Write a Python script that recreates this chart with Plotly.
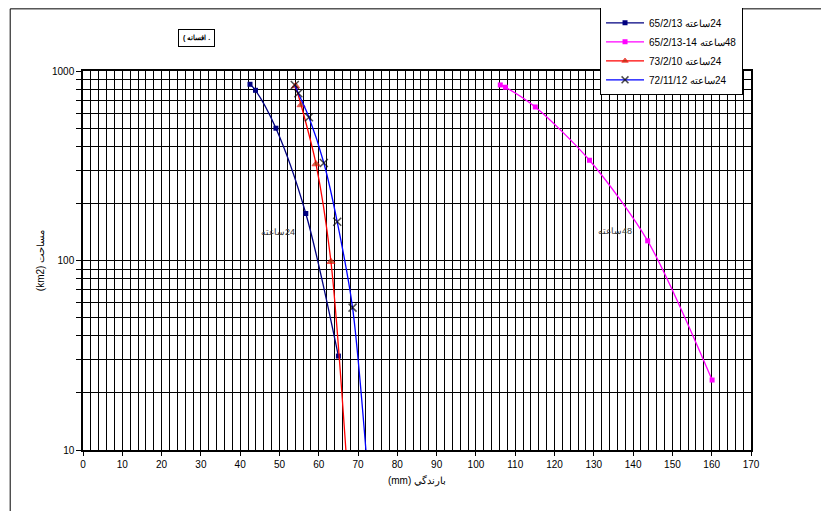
import plotly.graph_objects as go

RLE, LRE, PDF = "\u202b", "\u202a", "\u202c"

# Series data (rainfall mm vs area km2)
s1_label, s1_date = "24ساعته", "65/2/13"
s1_x = [42.5, 43.9, 49.1, 56.7, 65.0]
s1_y = [851, 791, 499, 177, 31.3]

s2_label, s2_date = "48ساعته", "65/2/13-14"
s2_x = [106.2, 107.5, 115.1, 128.9, 143.7, 160.1]
s2_y = [844, 821, 646, 338, 127, 23.4]

s3_label, s3_date = "24ساعته", "73/2/10"
s3_x = [54.1, 55.5, 59.3, 63.1, 66.9]
s3_y = [834, 662, 323, 98.5, 10]

s4_label, s4_date = "24ساعته", "72/11/12"
s4_x = [53.9, 54.8, 57.5, 61.3, 64.7, 68.6, 72.0]
s4_y = [844, 763, 570, 327, 160, 56.4, 10]

x_ticks = list(range(0, 171, 10))
y_ticks = [10, 100, 1000]
y_minor = [20, 30, 40, 50, 60, 70, 80, 90, 200, 300, 400, 500, 600, 700, 800, 900]

FONT = "Liberation Sans, Arial, sans-serif"


def legend_name(label, date):
    return RLE + label + " " + LRE + date + PDF + PDF


def msizes(n, size, hide_last=False):
    s = [size] * n
    if hide_last:
        s[-1] = 0
    return s


fig = go.Figure()
fig.add_trace(go.Scatter(
    x=s1_x, y=s1_y, name=legend_name(s1_label, s1_date), mode="lines+markers",
    line=dict(color="#000080", width=1.3, shape="spline", smoothing=0.9),
    marker=dict(symbol="square", size=5, color="#000080")))
fig.add_trace(go.Scatter(
    x=s2_x, y=s2_y, name=legend_name(s2_label, s2_date), mode="lines+markers",
    line=dict(color="#FF00FF", width=1.3, shape="spline", smoothing=0.8),
    marker=dict(symbol="square", size=5, color="#FF00FF")))
fig.add_trace(go.Scatter(
    x=s3_x, y=s3_y, name=legend_name(s3_label, s3_date), mode="lines+markers",
    line=dict(color="#FF0000", width=1.3, shape="spline", smoothing=0.8),
    marker=dict(symbol="triangle-up", size=msizes(len(s3_x), 7, True), color="#993300")))
fig.add_trace(go.Scatter(
    x=s4_x, y=s4_y, name=legend_name(s4_label, s4_date), mode="lines+markers",
    line=dict(color="#0000FF", width=1.3, shape="spline", smoothing=0.8),
    marker=dict(symbol="x-thin", size=msizes(len(s4_x), 8, True),
                line=dict(color="black", width=1.5), color="black")))

# page has an 8px body margin, so the figure is sized/offset to compensate
fig.update_layout(
    width=821, height=503,
    margin=dict(l=75, r=78, t=63, b=61, autoexpand=False),
    paper_bgcolor="white", plot_bgcolor="white",
    font=dict(family=FONT, size=10, color="black"),
    showlegend=True,
    legend=dict(x=0.774, y=1.168, xanchor="left", yanchor="top",
                bgcolor="white", bordercolor="black", borderwidth=1,
                font=dict(size=10), tracegroupgap=0, itemwidth=38),
    xaxis=dict(range=[0, 170], tickvals=x_ticks, showgrid=True, gridcolor="black",
               gridwidth=1, zeroline=False, showline=True, linecolor="black",
               linewidth=1.5, mirror=True, ticks="outside", ticklen=4,
               tickcolor="black",
               minor=dict(dtick=2, tick0=0, showgrid=True, gridcolor="black", gridwidth=1),
               title=dict(text="(mm) بارندگي", font=dict(size=10), standoff=8)),
    yaxis=dict(type="log", range=[1, 3], tickvals=y_ticks, showgrid=True,
               gridcolor="black", gridwidth=1, zeroline=False, showline=True,
               linecolor="black", linewidth=1.5, mirror=True, ticks="outside",
               ticklen=5, tickcolor="black",
               minor=dict(tickvals=y_minor, showgrid=True, gridcolor="black",
                          gridwidth=1, ticks="outside", ticklen=5, tickcolor="black"),
               title=dict(text="(km2) مساحت", font=dict(size=10), standoff=6)),
    shapes=[dict(type="rect", xref="paper", yref="paper", x0=-0.109, x1=1.3,
                 y0=-0.4, y1=1.164, line=dict(color="black", width=1))],
    annotations=[
        dict(x=49.6, y=2.150, xref="x", yref="y", text=RLE + "24ساعته" + PDF,
             showarrow=False, font=dict(size=9, color="#333333")),
        dict(x=135.4, y=2.156, xref="x", yref="y", text=RLE + "48ساعته" + PDF,
             showarrow=False, font=dict(size=9, color="#333333")),
        dict(x=0.170, y=1.088, xref="paper", yref="paper", xanchor="center",
             yanchor="middle", text="<b>( افسانه .</b>",
             showarrow=False, font=dict(size=7), bordercolor="black",
             borderwidth=1, borderpad=4, bgcolor="white"),
    ],
)

fig.write_html("out.html")
